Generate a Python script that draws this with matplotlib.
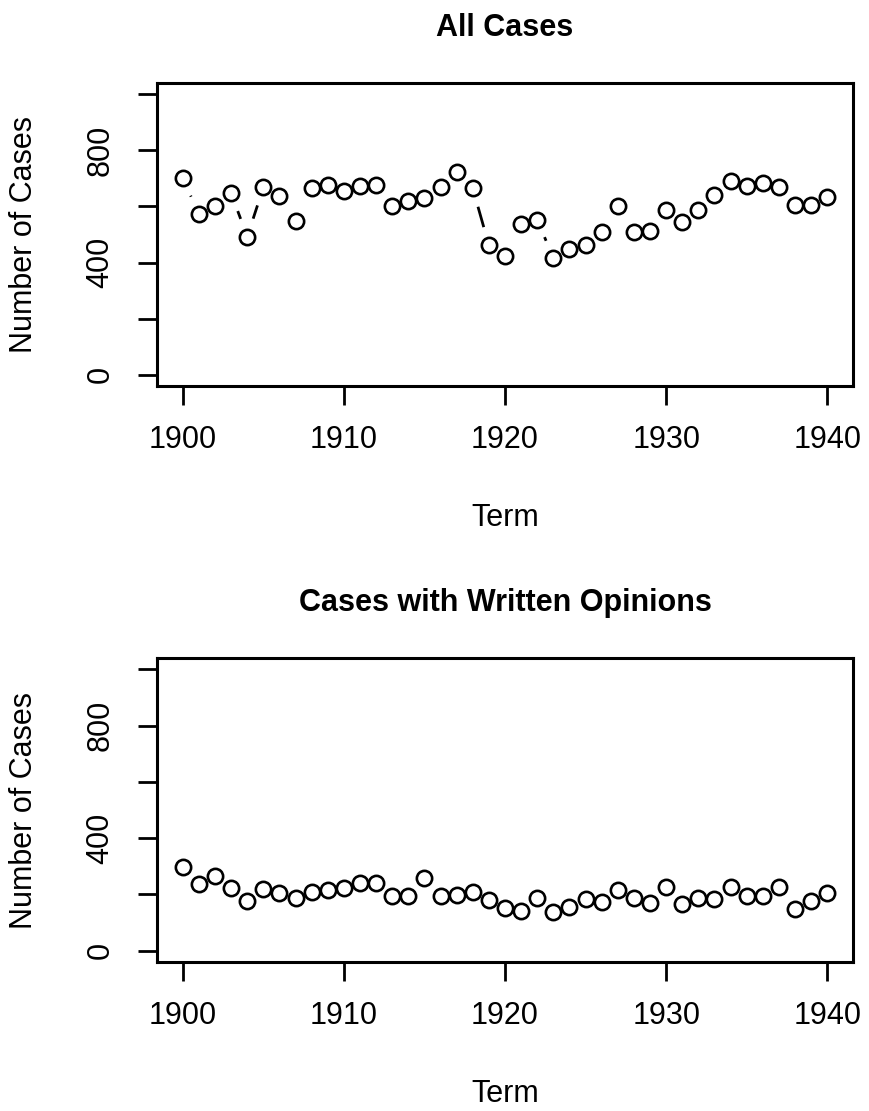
import numpy as np
import matplotlib
matplotlib.use("Agg")
import matplotlib.pyplot as plt

plt.rcParams['font.family'] = ['Liberation Sans', 'DejaVu Sans']

years = list(range(1900, 1941))

all_cases = [700, 573, 600, 647, 492, 668, 637, 547, 667, 676,
             656, 673, 678, 602, 621, 629, 668, 723, 664, 461,
             424, 539, 553, 415, 450, 462, 508, 600, 509, 512,
             588, 543, 586, 641, 690, 674, 682, 668, 606, 606,
             633]

written = [299, 238, 265, 222, 178, 219, 205, 187, 208, 216,
           222, 242, 240, 195, 193, 258, 195, 199, 207, 181,
           151, 142, 189, 136, 154, 183, 175, 216, 189, 171,
           228, 167, 187, 183, 226, 196, 193, 226, 148, 178,
           205]

titles = ["All Cases", "Cases with Written Opinions"]
y_ticks = [0, 200, 400, 600, 800, 1000]
x_ticks = [1900, 1910, 1920, 1930, 1940]


def plot_b(ax, x, y, gap=19):
    # R style type="b": points joined by segments that stop short of each point
    pts = ax.transData.transform(np.column_stack([x, y]))
    inv = ax.transData.inverted()
    for p0, p1 in zip(pts[:-1], pts[1:]):
        d = np.hypot(*(p1 - p0))
        if d <= 2 * gap:
            continue
        u = (p1 - p0) / d
        a = inv.transform(p0 + u * gap)
        b = inv.transform(p1 - u * gap)
        ax.plot([a[0], b[0]], [a[1], b[1]], color='black', lw=2.0,
                solid_capstyle='butt')
    ax.plot(x, y, 'o', mfc='none', mec='black', ms=11, mew=1.9)


fig = plt.figure(figsize=(8.7, 11.11), dpi=100)
positions = [[0.1805, 0.6526, 0.8, 0.2727], [0.1805, 0.1341, 0.8, 0.2736]]

for pos, title, vals in zip(positions, titles, [all_cases, written]):
    ax = fig.add_axes(pos)
    ax.set_xlim(1898.4, 1941.6)
    ax.set_ylim(-40, 1040)
    plot_b(ax, years, vals)
    ax.set_xticks(x_ticks)
    ax.set_xticklabels([str(t) for t in x_ticks])
    ax.set_yticks(y_ticks)
    ax.set_yticklabels([str(t) if t % 400 == 0 else '' for t in y_ticks],
                       rotation=90, va='center')
    ax.tick_params(labelsize=22, length=14, width=2.0, direction='out')
    ax.tick_params(axis='x', pad=14)
    ax.tick_params(axis='y', pad=16)
    for s in ax.spines.values():
        s.set_linewidth(2.2)
    ax.set_title(title, fontsize=22, fontweight='bold', pad=34)
    ax.set_xlabel("Term", fontsize=22)
    ax.set_ylabel("Number of Cases", fontsize=22)
    ax.xaxis.set_label_coords(0.5, -0.385)
    ax.yaxis.set_label_coords(-0.17, 0.5)

fig.savefig("out.png", dpi=100)
